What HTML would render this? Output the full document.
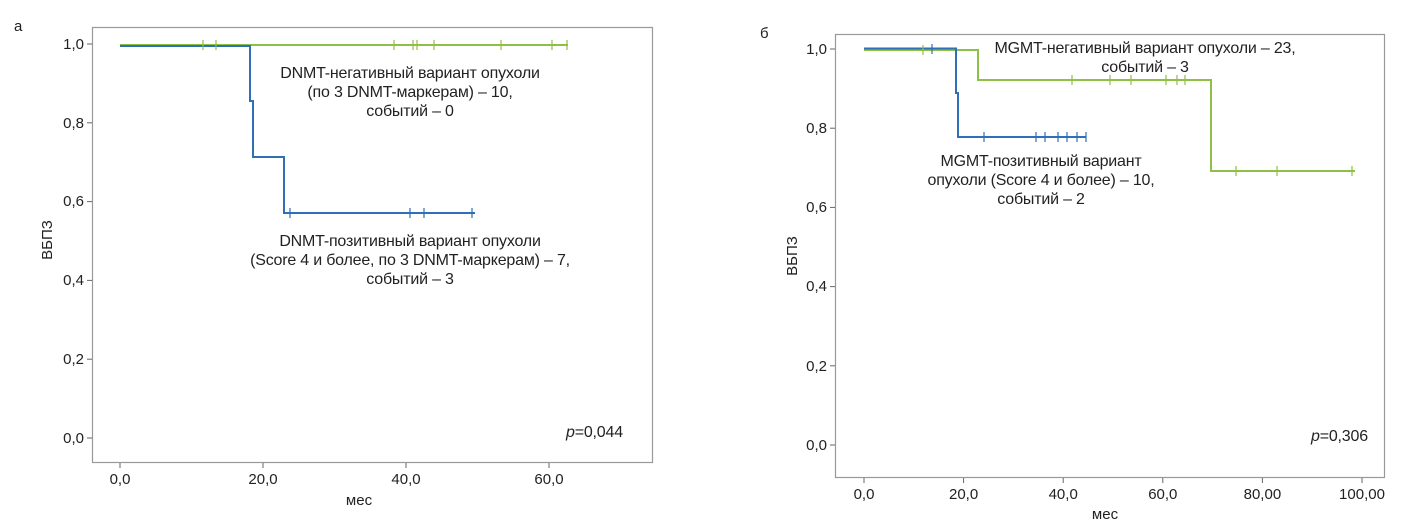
<!DOCTYPE html>
<html><head><meta charset="utf-8"><style>
body{margin:0;background:#fff;}
svg{display:block;font-family:"Liberation Sans",sans-serif;}
text{fill:#222;font-size:15px;}
.a{font-size:16px;letter-spacing:-0.2px;}
</style></head><body>
<svg width="1416" height="525" viewBox="0 0 1416 525">
<!-- LEFT -->
<text x="14" y="31" font-size="14">а</text>
<rect x="92.5" y="27.5" width="560" height="435" fill="none" stroke="#999" stroke-width="1.2"/>
<g stroke="#666" stroke-width="1">
<line x1="87" y1="44" x2="92" y2="44"/><line x1="87" y1="122.8" x2="92" y2="122.8"/><line x1="87" y1="201.6" x2="92" y2="201.6"/><line x1="87" y1="280.4" x2="92" y2="280.4"/><line x1="87" y1="359.2" x2="92" y2="359.2"/><line x1="87" y1="438" x2="92" y2="438"/>
<line x1="120" y1="463" x2="120" y2="468"/><line x1="263" y1="463" x2="263" y2="468"/><line x1="406" y1="463" x2="406" y2="468"/><line x1="549" y1="463" x2="549" y2="468"/>
</g>
<g text-anchor="end"><text x="84" y="49">1,0</text><text x="84" y="128">0,8</text><text x="84" y="206">0,6</text><text x="84" y="285">0,4</text><text x="84" y="364">0,2</text><text x="84" y="443">0,0</text></g>
<g text-anchor="middle"><text x="120" y="484">0,0</text><text x="263" y="484">20,0</text><text x="406" y="484">40,0</text><text x="549" y="484">60,0</text>
<text x="359" y="505">мес</text></g>
<text transform="translate(52,240) rotate(-90)" text-anchor="middle" font-size="16">ВБПЗ</text>
<polyline points="120,45 568,45" fill="none" stroke="#8dc045" stroke-width="2"/>
<polyline points="120,46 250,46 250,101 253,101 253,157 284,157 284,213 475,213" fill="none" stroke="#2e6fb7" stroke-width="2"/>
<g stroke="#8dc045" stroke-width="1.2">
<path d="M203,40v10M216,40v10M394,40v10M413,40v10M417,40v10M434,40v10M501,40v10M552,40v10M567,40v10"/></g>
<g stroke="#2e6fb7" stroke-width="1.2"><path d="M290,208v10M410,208v10M424,208v10M472,208v10"/></g>
<g text-anchor="middle" class="a"><text class="a" x="410" y="78">DNMT-негативный вариант опухоли</text><text class="a" x="410" y="97">(по 3 DNMT-маркерам) – 10,</text><text class="a" x="410" y="116">событий – 0</text>
<text class="a" x="410" y="246">DNMT-позитивный вариант опухоли</text><text class="a" x="410" y="265">(Score 4 и более, по 3 DNMT-маркерам) – 7,</text><text class="a" x="410" y="284">событий – 3</text></g>
<text class="a" x="566" y="437"><tspan font-style="italic">p</tspan>=0,044</text>

<!-- RIGHT -->
<text x="760" y="38">б</text>
<rect x="835.5" y="34.5" width="549" height="443" fill="none" stroke="#999" stroke-width="1.2"/>
<g stroke="#666" stroke-width="1">
<line x1="830" y1="49" x2="835" y2="49"/><line x1="830" y1="128.2" x2="835" y2="128.2"/><line x1="830" y1="207.4" x2="835" y2="207.4"/><line x1="830" y1="286.6" x2="835" y2="286.6"/><line x1="830" y1="365.8" x2="835" y2="365.8"/><line x1="830" y1="445" x2="835" y2="445"/>
<line x1="864" y1="478" x2="864" y2="483"/><line x1="963.6" y1="478" x2="963.6" y2="483"/><line x1="1063.2" y1="478" x2="1063.2" y2="483"/><line x1="1162.8" y1="478" x2="1162.8" y2="483"/><line x1="1262.4" y1="478" x2="1262.4" y2="483"/><line x1="1362" y1="478" x2="1362" y2="483"/>
</g>
<g text-anchor="end"><text x="827" y="54">1,0</text><text x="827" y="133">0,8</text><text x="827" y="212">0,6</text><text x="827" y="291">0,4</text><text x="827" y="371">0,2</text><text x="827" y="450">0,0</text></g>
<g text-anchor="middle"><text x="864" y="499">0,0</text><text x="963.6" y="499">20,0</text><text x="1063.2" y="499">40,0</text><text x="1162.8" y="499">60,0</text><text x="1262.4" y="499">80,00</text><text x="1362" y="499">100,00</text>
<text x="1105" y="519">мес</text></g>
<text transform="translate(797,256) rotate(-90)" text-anchor="middle" font-size="16">ВБПЗ</text>
<polyline points="864,50 978,50 978,80 1211,80 1211,171 1355,171" fill="none" stroke="#8dc045" stroke-width="2"/>
<polyline points="864,48.5 956,48.5 956,93 958,93 958,137 1086,137" fill="none" stroke="#2e6fb7" stroke-width="2"/>
<g stroke="#8dc045" stroke-width="1.2"><path d="M923,45v10M1072,75v10M1110,75v10M1131,75v10M1166,75v10M1177,75v10M1185,75v10M1236,166v10M1277,166v10M1352,166v10"/></g>
<g stroke="#2e6fb7" stroke-width="1.2"><path d="M932,44v10M984,132v10M1036,132v10M1045,132v10M1058,132v10M1067,132v10M1077,132v10M1086,132v10"/></g>
<g text-anchor="middle"><text class="a" x="1145" y="53">MGMT-негативный вариант опухоли – 23,</text><text class="a" x="1145" y="72">событий – 3</text>
<text class="a" x="1041" y="166">MGMT-позитивный вариант</text><text class="a" x="1041" y="185">опухоли (Score 4 и более) – 10,</text><text class="a" x="1041" y="204">событий – 2</text></g>
<text class="a" x="1311" y="441"><tspan font-style="italic">p</tspan>=0,306</text>
</svg>
</body></html>
